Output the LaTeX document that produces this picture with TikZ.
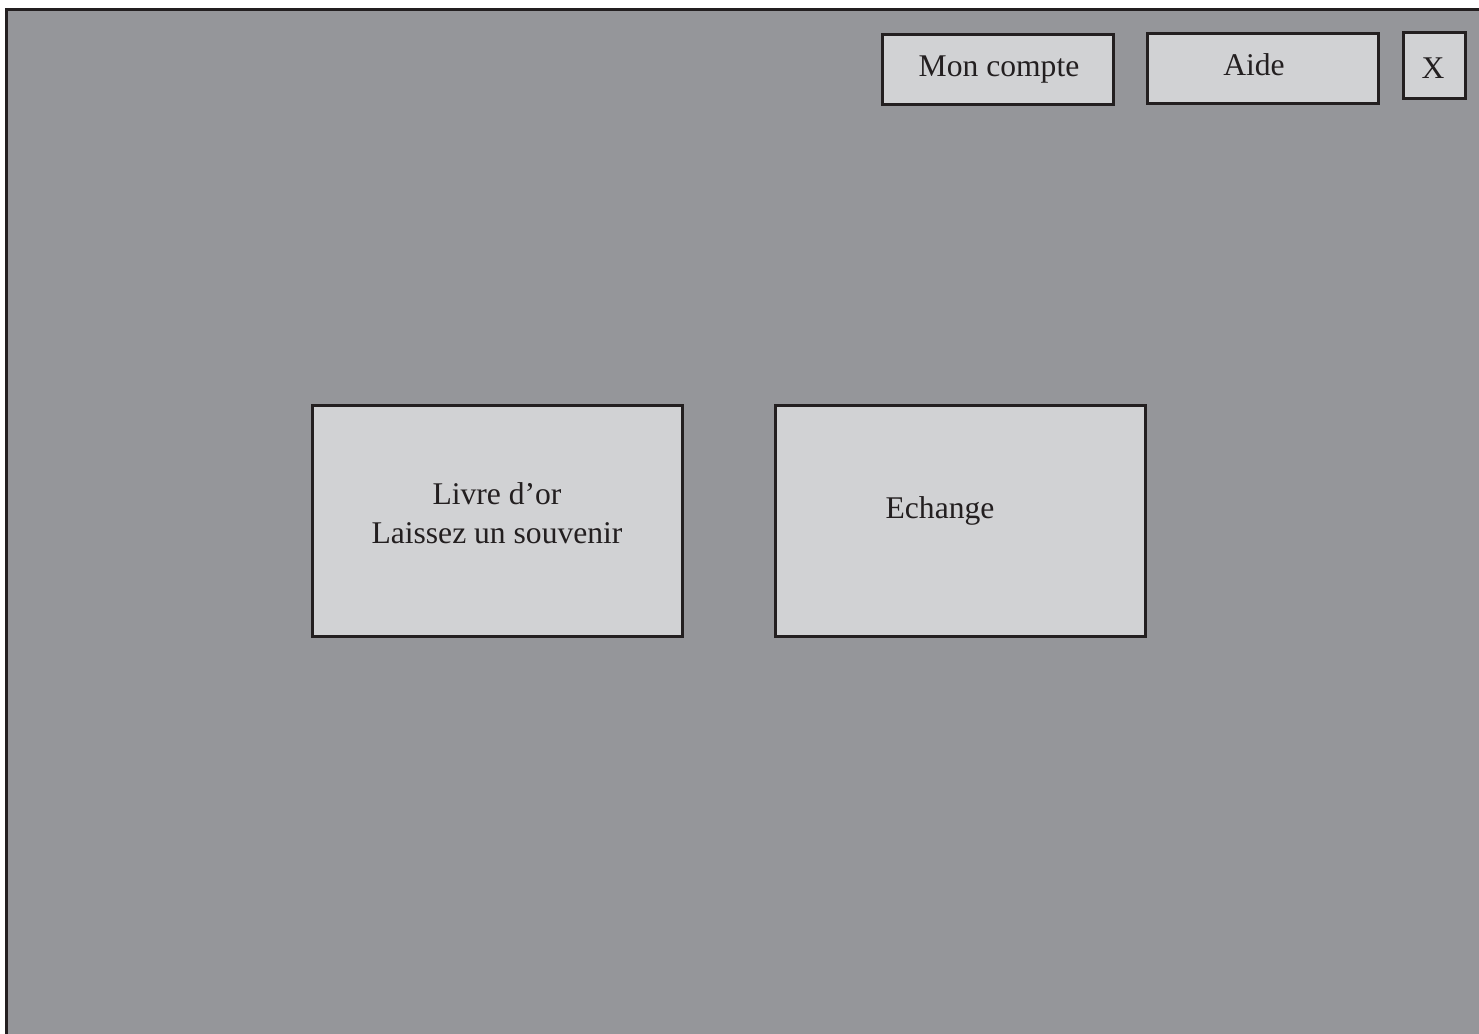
\documentclass[tikz,border=0pt]{standalone}
\usepackage{fontspec}
\setmainfont{Liberation Serif}
\definecolor{bgGrey}{HTML}{95969A}
\definecolor{boxGrey}{HTML}{D1D2D4}
\definecolor{lineDark}{HTML}{231F20}
\tikzset{
  btn/.style={draw=lineDark, line width=3pt, fill=boxGrey, inner sep=0pt, anchor=north west},
  lbl/.style={font=\fontsize{31.6}{38.8}\selectfont, text=lineDark, align=center, inner sep=0pt}
}
\begin{document}
\begin{tikzpicture}[x=1pt,y=-1pt]
\useasboundingbox (0,0) rectangle (1479,1033);
\fill[white] (0,0) rectangle (1479,1033);
\begin{scope}
\clip (0,0) rectangle (1479,1033);
\draw[draw=lineDark, line width=3pt, fill=bgGrey] (6.5,9.5) rectangle (1500,1060);
\end{scope}
\node[btn, minimum width=231pt, minimum height=69pt] (compte) at (880.5,33.5) {};
\node[btn, minimum width=231pt, minimum height=69pt] (aide) at (1145.5,32.5) {};
\node[btn, minimum width=62pt, minimum height=65pt] (close) at (1402,31.5) {};
\node[btn, minimum width=370pt, minimum height=231pt] (livre) at (310.5,404) {};
\node[btn, minimum width=370pt, minimum height=231pt] (echange) at (773.5,404) {};
\node[lbl] (tcompte) at (999,70) {Mon compte};
\node[lbl] (taide) at (1254,65) {Aide};
\node[lbl] (tclose) at (1433,68) {X};
\node[lbl] (tlivre) at (497,513) {Livre d’or\\Laissez un souvenir};
\node[lbl] (techange) at (940,511) {Echange};
\end{tikzpicture}
\end{document}
